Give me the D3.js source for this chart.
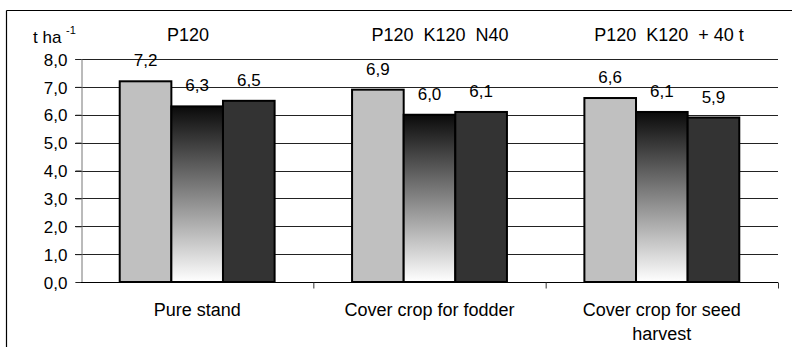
<!DOCTYPE html>
<html>
<head>
  <meta charset="utf-8">
  <title>Yield chart</title>
  <script src="https://d3js.org/d3.v7.min.js"></script>
  <style>
    body { margin: 0; padding: 0; background: white; }
    svg { display: block; font-family: "Liberation Sans", Arial, sans-serif; }
    .tick text { font-size: 17px; fill: #000; }
    .pre { white-space: pre; }
  </style>
</head>
<body>
<div id="chart"></div>
<script>
  // chart data
  var categories = ["Pure stand", "Cover crop for fodder", "Cover crop for seed harvest"]
  var series1 = [7.2, 6.9, 6.6]
  var series2 = [6.3, 6.0, 6.1]
  var series3 = [6.5, 6.1, 5.9]
  var headers = ["P120", "P120  K120  N40", "P120  K120  + 40 t"]
  var yTicks = [0, 1, 2, 3, 4, 5, 6, 7, 8]

  var width = 792,
      height = 347

  var margin = {left: 81, right: 14, top: 59, bottom: 65}

  var svg = d3.select("#chart").append("svg")
      .attr("width", width)
      .attr("height", height)

  // gradient for the middle series
  var grad = svg.append("defs").append("linearGradient")
      .attr("id", "fade")
      .attr("x1", 0).attr("y1", 0).attr("x2", 0).attr("y2", 1)
  grad.append("stop").attr("offset", "0%").attr("stop-color", "#0a0a0a")
  grad.append("stop").attr("offset", "100%").attr("stop-color", "#ffffff")

  // outer frame (only top and left visible)
  svg.append("line").attr("x1", 6.5).attr("x2", width).attr("y1", 10.5).attr("y2", 10.5)
      .attr("stroke", "#000").attr("stroke-width", 1.2)
  svg.append("line").attr("x1", 6.5).attr("x2", 6.5).attr("y1", 10.5).attr("y2", height)
      .attr("stroke", "#000").attr("stroke-width", 1.2)

  var x = d3.scaleBand()
      .domain(categories)
      .range([margin.left, width - margin.right])
      .paddingInner(0)
      .paddingOuter(0)

  var y = d3.scaleLinear()
      .domain([0, 8])
      .range([height - margin.bottom, margin.top])

  var seriesKeys = ["s1", "s2", "s3"]
  var x1 = d3.scaleBand()
      .domain(seriesKeys)
      .range([0, x.bandwidth()])
      .paddingOuter(0.75)
      .paddingInner(0)

  var fills = {s1: "#c0c0c0", s2: "url(#fade)", s3: "#333333"}

  // gridlines
  svg.append("g")
      .selectAll("line")
      .data(yTicks.filter(function (d) { return d > 0 }))
      .enter().append("line")
      .attr("x1", margin.left - 6)
      .attr("x2", width - margin.right)
      .attr("y1", function (d) { return Math.round(y(d)) + 0.5 })
      .attr("y2", function (d) { return Math.round(y(d)) + 0.5 })
      .attr("stroke", "#222")
      .attr("stroke-width", 1)

  // y axis
  var yAxis = svg.append("g")
      .attr("transform", "translate(" + (margin.left + 0.5) + ",0)")
      .call(d3.axisLeft(y).tickValues(yTicks).tickSize(6).tickPadding(8)
        .tickFormat(function (d) { return d3.format(".1f")(d).replace(".", ",") }))
  yAxis.select(".domain").attr("stroke", "#777")
  yAxis.selectAll(".tick line").attr("stroke", "#222")
  yAxis.selectAll(".tick text").attr("dy", "0.36em")

  // bars
  var rows = categories.map(function (c, i) {
    return {cat: c, values: [
      {key: "s1", value: series1[i]},
      {key: "s2", value: series2[i]},
      {key: "s3", value: series3[i]}
    ]}
  })

  var groups = svg.append("g")
      .selectAll("g")
      .data(rows)
      .enter().append("g")
      .attr("transform", function (d) { return "translate(" + x(d.cat) + ",0)" })

  groups.selectAll("rect")
      .data(function (d) { return d.values })
      .enter().append("rect")
      .attr("x", function (d) { return x1(d.key) })
      .attr("y", function (d) { return y(d.value) })
      .attr("width", x1.bandwidth())
      .attr("height", function (d) { return y(0) - y(d.value) })
      .attr("fill", function (d) { return fills[d.key] })
      .attr("stroke", "#000")
      .attr("stroke-width", 2)

  groups.selectAll("text")
      .data(function (d) { return d.values })
      .enter().append("text")
      .attr("x", function (d) { return x1(d.key) + x1.bandwidth() / 2 })
      .attr("y", function (d) { return y(d.value) - 15 })
      .attr("text-anchor", "middle")
      .style("font-size", "17px")
      .text(function (d) { return d3.format(".1f")(d.value).replace(".", ",") })

  // x axis
  var xAxis = svg.append("g")
      .attr("transform", "translate(0," + (y(0) + 0.5) + ")")
  xAxis.append("line")
      .attr("x1", margin.left).attr("x2", width - margin.right)
      .attr("stroke", "#000")
  xAxis.selectAll(".sep")
      .data(categories)
      .enter().append("line")
      .attr("class", "sep")
      .attr("x1", function (d) { return x(d) + x.bandwidth() + 0.5 })
      .attr("x2", function (d) { return x(d) + x.bandwidth() + 0.5 })
      .attr("y1", 0).attr("y2", 6)
      .attr("stroke", "#333")

  // category labels (wrapped as in the original)
  var catLines = [["Pure stand"], ["Cover crop for fodder"], ["Cover crop for seed", "harvest"]]
  categories.forEach(function (c, i) {
    var t = svg.append("text")
        .attr("text-anchor", "middle")
        .style("font-size", "18px")
    catLines[i].forEach(function (line, j) {
      t.append("tspan")
          .attr("x", x(c) + x.bandwidth() / 2)
          .attr("y", 316 + j * 24)
          .text(line)
    })
  })

  // fertiliser headers
  var headerX = [188, 440, 669]
  svg.selectAll(".hdr")
      .data(headers)
      .enter().append("text")
      .attr("class", "hdr pre")
      .attr("x", function (d, i) { return headerX[i] })
      .attr("y", 41)
      .attr("text-anchor", "middle")
      .style("font-size", "18px")
      .text(function (d) { return d })

  // unit label
  var unit = svg.append("text")
      .attr("x", 33)
      .attr("y", 43)
      .style("font-size", "17px")
  unit.append("tspan").text("t ha ")
  unit.append("tspan").attr("dy", -9).style("font-size", "11px").text("-1")
</script>
</body>
</html>
